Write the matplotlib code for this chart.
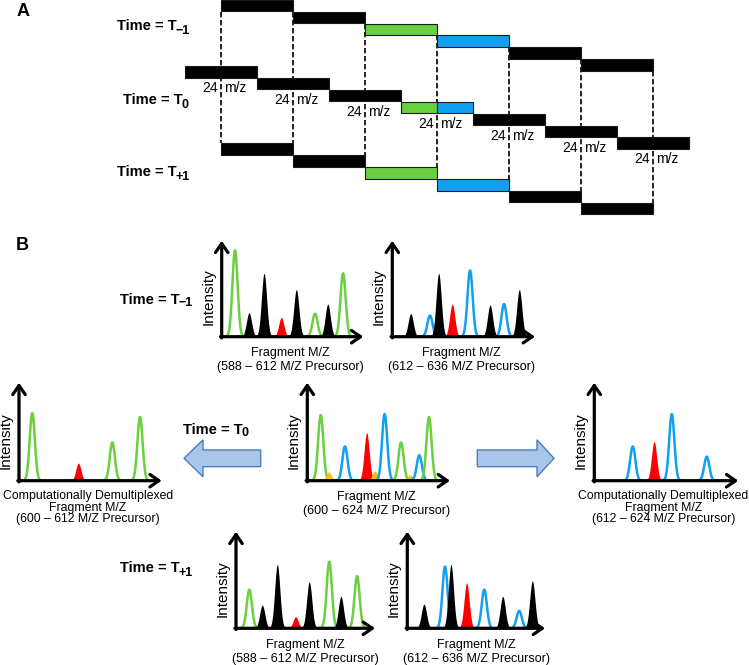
import numpy as np
import matplotlib.pyplot as plt
from matplotlib.patches import Rectangle, FancyArrow

plt.rcParams['font.family'] = 'Liberation Sans'

GREEN = '#6ad040'
BLUE = '#12a0f0'
cmap = {'k': 'black', 'g': GREEN, 'b': BLUE, 'r': '#ff0000', 'o': '#ffc000'}

# ---- Panel A: 24 m/z isolation windows ----
window_width = 24
t0_starts = [528, 552, 576, 600, 624, 648, 672]
t0_colors = ['k', 'k', 'k', 'gb', 'k', 'k', 'k']
tpm_starts = [540, 564, 588, 612, 636, 660]   # T-1 and T+1 windows
tpm_colors = ['k', 'k', 'g', 'b', 'k', 'k']

# ---- Panel B: spectra (peak position % of axis, height % of axis, colour) ----
tl_pos = [9.4, 19.3, 29.9, 42.1, 52.7, 65.9, 74.9, 85.7]
tl_int = [90, 25, 66, 20, 49, 24, 34, 66]
tl_col = ['g', 'k', 'k', 'r', 'k', 'g', 'k', 'g']

tr_pos = [12.9, 26.4, 32.5, 42.0, 54.5, 68.5, 78.3, 89.0]
tr_int = [24, 22, 66, 34, 69, 33, 34, 49]
tr_col = ['k', 'b', 'k', 'r', 'b', 'k', 'b', 'k']

ml_pos = [9.3, 41.6, 65.4, 84.8]
ml_int = [69, 18, 39, 65]
ml_col = ['g', 'r', 'g', 'g']

mc_pos = [9.4, 15.0, 26.4, 41.6, 47.4, 54.2, 65.7, 72.0, 78.5, 85.3]
mc_int = [67, 9, 35, 49, 10, 68, 39, 6, 26, 65]
mc_col = ['g', 'o', 'b', 'r', 'o', 'b', 'g', 'o', 'b', 'g']

mr_pos = [26.7, 41.5, 53.8, 78.1]
mr_int = [35, 40, 68, 24.5]
mr_col = ['b', 'r', 'b', 'b']

bl_pos = [9.6, 18.9, 29.7, 42.9, 52.7, 67.1, 75.5, 87.1]
bl_int = [40, 24, 66, 12, 48, 69, 33, 54]
bl_col = ['g', 'k', 'k', 'r', 'k', 'g', 'k', 'g']

br_pos = [12.1, 27.4, 31.7, 43.1, 55.9, 69.3, 81.3, 90.8]
br_int = [25, 64, 66, 47, 40, 33, 18, 49]
br_col = ['k', 'b', 'k', 'r', 'b', 'k', 'b', 'k']

fig = plt.figure(figsize=(7.49, 6.65), dpi=100)
ax = fig.add_axes([0, 0, 1, 1])
ax.set_xlim(0, 749)
ax.set_ylim(665, 0)
ax.axis('off')
renderer = fig.canvas.get_renderer()


def mz_px(mz):
    return 185 + 3.0 * (mz - 528)


STEP = 11.9
BAR_H = 11.5


def draw_row(starts, cols, base):
    for k, (s, c) in enumerate(zip(starts, cols)):
        y = base + STEP * k
        if c == 'gb':
            half = window_width / 2
            ax.add_patch(Rectangle((mz_px(s), y), 3 * half, BAR_H, fc=GREEN, ec='#1a1a1a', lw=0.8, zorder=3))
            ax.add_patch(Rectangle((mz_px(s + half), y), 3 * half, BAR_H, fc=BLUE, ec='#1a1a1a', lw=0.8, zorder=3))
        else:
            ax.add_patch(Rectangle((mz_px(s), y), 3 * window_width, BAR_H, fc=cmap[c], ec='#1a1a1a', lw=0.8, zorder=3))


prev_base, t0_base, next_base = -0.3, 66.0, 143.3
draw_row(tpm_starts, tpm_colors, prev_base)
draw_row(t0_starts, t0_colors, t0_base)
draw_row(tpm_starts, tpm_colors, next_base)

# dashed boundaries of the T-1 / T+1 windows
bounds = tpm_starts + [tpm_starts[-1] + window_width]
for k, b in enumerate(bounds):
    top = prev_base + STEP * np.clip(k, 1, 6)
    bot = next_base + STEP * min(k, 5)
    ax.plot([mz_px(b), mz_px(b)], [top, bot], color='black', lw=1.2, dashes=(3.2, 1.6), zorder=1)

# "24 m/z" labels under each T0 window
for k, s in enumerate(t0_starts):
    xc = mz_px(s + window_width / 2)
    yl = t0_base + STEP * k + BAR_H + 14.5
    ax.text(xc - 3.5, yl, str(window_width), ha='right', va='baseline', fontsize=10)
    ax.text(xc + 3.5, yl, 'm/z', ha='left', va='baseline', fontsize=10)


def time_label(x, y, sub):
    # y is the baseline of "Time = T"
    t = ax.text(x, y, 'Time = T', ha='left', va='baseline', fontsize=10.5, fontweight='bold')
    bb = t.get_window_extent(renderer)
    x1 = ax.transData.inverted().transform((bb.x1, 0))[0]
    ax.text(x1 - 1.5, y + 3, sub, ha='left', va='baseline', fontsize=9, fontweight='bold')


time_label(117, 30.5, '\u22121')
time_label(123, 104.5, '0')
time_label(117, 176.5, '+1')
ax.text(23, 11, 'A', ha='center', va='center', fontsize=13, fontweight='bold')
ax.text(22, 245, 'B', ha='center', va='center', fontsize=13, fontweight='bold')

SIG = 2.6


def spectrum(ox, oy, w, h, pos, ints, cols, lines):
    for p, i, c in zip(pos, ints, cols):
        x0 = ox + p / 100 * w
        xx = np.linspace(x0 - 4 * SIG, x0 + 4 * SIG, 80)
        yy = oy - i / 100 * h * np.exp(-0.5 * ((xx - x0) / SIG) ** 2)
        if c in ('g', 'b'):
            ax.plot(xx, yy, color=cmap[c], lw=1.8, zorder=2)
        else:
            ax.fill_between(xx, oy, yy, color=cmap[c], lw=0, zorder=2)
    aprops = dict(arrowstyle='->,head_length=0.65,head_width=0.45', lw=2.3, color='black',
                  shrinkA=0, shrinkB=0)
    ax.annotate('', xy=(ox, oy - h), xytext=(ox, oy + 1.2), arrowprops=aprops, zorder=4)
    ax.annotate('', xy=(ox + w, oy), xytext=(ox - 1.2, oy), arrowprops=aprops, zorder=4)
    ax.text(ox - 13.5, oy - 40, 'Intensity', rotation=90, ha='center', va='center', fontsize=11)
    if len(lines) == 2:
        ys = [oy + 19.5, oy + 33.5]
        fs = 9
    else:
        ys = [oy + 18.8, oy + 30.5, oy + 41.3]
        fs = 8.8
    for t, y in zip(lines, ys):
        ax.text(ox + 69, y, t, ha='center', va='baseline', fontsize=fs)


spectrum(221.7, 336.7, 141.6, 96, tl_pos, tl_int, tl_col,
         ['Fragment M/Z', '(588 \u2013 612 M/Z Precursor)'])
spectrum(392.3, 336.7, 142.7, 96, tr_pos, tr_int, tr_col,
         ['Fragment M/Z', '(612 \u2013 636 M/Z Precursor)'])
spectrum(19, 480.7, 142.7, 98, ml_pos, ml_int, ml_col,
         ['Computationally Demultiplexed', 'Fragment M/Z', '(600 \u2013 612 M/Z Precursor)'])
spectrum(307.3, 480.7, 142.7, 98, mc_pos, mc_int, mc_col,
         ['Fragment M/Z', '(600 \u2013 624 M/Z Precursor)'])
spectrum(594.3, 480.7, 144, 98, mr_pos, mr_int, mr_col,
         ['Computationally Demultiplexed', 'Fragment M/Z', '(612 \u2013 624 M/Z Precursor)'])
spectrum(236, 628.3, 139, 96.6, bl_pos, bl_int, bl_col,
         ['Fragment M/Z', '(588 \u2013 612 M/Z Precursor)'])
spectrum(407.3, 628.3, 137.7, 96.6, br_pos, br_int, br_col,
         ['Fragment M/Z', '(612 \u2013 636 M/Z Precursor)'])

time_label(120, 303.5, '\u22121')
time_label(183, 433.5, '0')
time_label(120, 572.5, '+1')

# block arrows pointing to the demultiplexed spectra
afc, aec = '#a9c5ea', '#4a7ec0'
ax.add_patch(FancyArrow(260.7, 458.3, -76.7, 0, width=16.7, head_width=37, head_length=19,
                        length_includes_head=True, fc=afc, ec=aec, lw=1.0))
ax.add_patch(FancyArrow(477.3, 458.3, 76.7, 0, width=16.7, head_width=37, head_length=17,
                        length_includes_head=True, fc=afc, ec=aec, lw=1.0))

fig.savefig('out.png', dpi=100)
